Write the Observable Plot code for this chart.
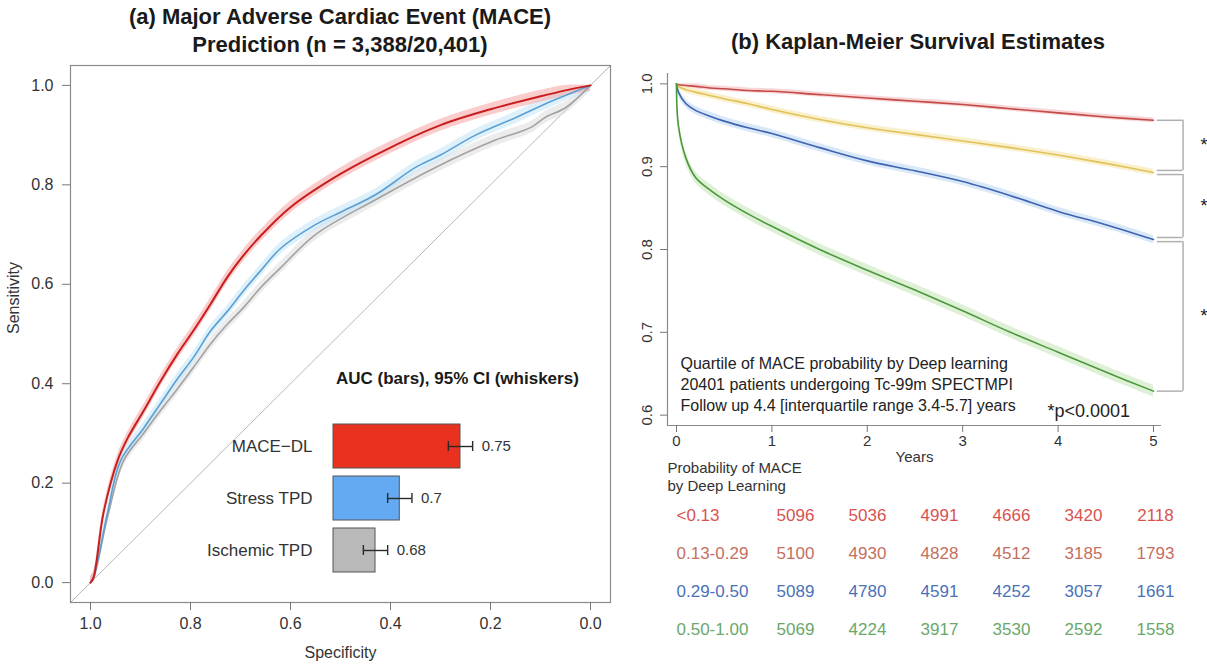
<!DOCTYPE html>
<html><head><meta charset="utf-8">
<script src="https://cdn.jsdelivr.net/npm/d3@7"></script>
<script src="https://cdn.jsdelivr.net/npm/@observablehq/plot@0.6"></script>
<style>
body{margin:0;background:#fff;}
#root{position:relative;width:1207px;height:664px;overflow:hidden;font-family:"Liberation Sans",Arial,Helvetica,sans-serif;color:#1a1a1a;background:#fff;}
.abs{position:absolute;}
.title{font-weight:bold;font-size:22px;line-height:28px;text-align:center;color:#1a1a1a;white-space:nowrap;}
</style></head>
<body><div id="root"></div>
<script>
const FONT = '"Liberation Sans", Arial, Helvetica, sans-serif';

// ---------- (a) ROC data ----------
const rocModels = ["MACE-DL", "Stress TPD", "Ischemic TPD"];
const rocSpecMace = [1, 0.994, 0.974, 0.946, 0.926, 0.894, 0.86, 0.826, 0.794, 0.76, 0.726, 0.694, 0.66, 0.6, 0.5, 0.4, 0.3, 0.2, 0.1, 0.05, 0];
const rocSensMace = [0, 0.01, 0.14, 0.245, 0.29, 0.345, 0.405, 0.46, 0.507, 0.56, 0.615, 0.658, 0.697, 0.755, 0.822, 0.875, 0.92, 0.952, 0.978, 0.99, 1];
const rocSpecStress = [1, 0.994, 0.966, 0.94, 0.894, 0.86, 0.826, 0.794, 0.76, 0.726, 0.694, 0.66, 0.62, 0.55, 0.5, 0.43, 0.35, 0.3, 0.23, 0.15, 0.074, 0];
const rocSensStress = [0, 0.01, 0.14, 0.245, 0.31, 0.36, 0.41, 0.453, 0.506, 0.546, 0.587, 0.627, 0.672, 0.72, 0.745, 0.78, 0.835, 0.86, 0.9, 0.935, 0.97, 1];
const rocSpecIsch = [1, 0.994, 0.964, 0.934, 0.894, 0.86, 0.826, 0.794, 0.76, 0.726, 0.694, 0.66, 0.62, 0.55, 0.43, 0.31, 0.19, 0.12, 0.09, 0.05, 0];
const rocSensIsch = [0, 0.01, 0.14, 0.245, 0.30, 0.346, 0.39, 0.433, 0.48, 0.52, 0.553, 0.593, 0.633, 0.70, 0.77, 0.835, 0.89, 0.915, 0.936, 0.955, 1];
const rocXTicks = [1, 0.8, 0.6, 0.4, 0.2, 0];
const rocYTicks = [0, 0.2, 0.4, 0.6, 0.8, 1];

// ---------- AUC inset ----------
const aucLabels = ["MACE\u2212DL", "Stress TPD", "Ischemic TPD"];
const aucValues = [0.75, 0.70, 0.68];
const aucLo = [0.74, 0.69, 0.67];
const aucHi = [0.76, 0.71, 0.69];
const aucText = ["0.75", "0.7", "0.68"];
const aucBase = 0.6454;

// ---------- (b) Kaplan-Meier data ----------
const kmGroups = ["<0.13", "0.13-0.29", "0.29-0.50", "0.50-1.00"];
const kmTime = [0, 0.02, 0.1, 0.2, 0.35, 0.5, 0.75, 1, 1.5, 2, 2.5, 3, 3.5, 4, 4.5, 5];
const kmRed = [1, 0.999, 0.998, 0.997, 0.995, 0.994, 0.992, 0.991, 0.987, 0.983, 0.979, 0.975, 0.970, 0.965, 0.960, 0.956];
const kmYellow = [1, 0.997, 0.993, 0.990, 0.986, 0.982, 0.976, 0.969, 0.957, 0.947, 0.939, 0.931, 0.923, 0.914, 0.904, 0.893];
const kmBlue = [1, 0.990, 0.976, 0.968, 0.961, 0.955, 0.947, 0.940, 0.923, 0.907, 0.895, 0.882, 0.865, 0.846, 0.830, 0.812];
const kmGreen = [1, 0.950, 0.910, 0.887, 0.872, 0.860, 0.843, 0.828, 0.800, 0.775, 0.751, 0.726, 0.700, 0.676, 0.652, 0.629];
const kmXTicks = [0, 1, 2, 3, 4, 5];
const kmYTicks = [0.6, 0.7, 0.8, 0.9, 1.0];
const kmNote = "Quartile of MACE probability by Deep learning\n20401 patients undergoing Tc-99m SPECTMPI\nFollow up 4.4 [interquartile range 3.4-5.7] years";
const kmP = "*p<0.0001";

// ---------- numbers at risk ----------
const riskYears = [0, 1, 2, 3, 4, 5];
const riskLow = [5096, 5036, 4991, 4666, 3420, 2118];
const riskMidLow = [5100, 4930, 4828, 4512, 3185, 1793];
const riskMidHigh = [5089, 4780, 4591, 4252, 3057, 1661];
const riskHigh = [5069, 4224, 3917, 3530, 2592, 1558];
const riskHeader = "Probability of MACE\nby Deep Learning";

// ---------- styles ----------
const rocLineColors = ["#c81e1e", "#5b9fd3", "#a2a2a2"];
const rocBandColors = ["#f7a3a3", "#c2e5f7", "#dddddd"];
const aucBarColors = ["#e8321f", "#64aaf2", "#b9b9b9"];
const kmLineColors = ["#c44a4a", "#e3c15a", "#3e63b0", "#4a983a"];
const kmBandColors = ["#f6cccc", "#f8ecbf", "#cfe2f8", "#d6eecd"];
const kmBandHalf = [0.003, 0.004, 0.005, 0.007];
const riskColors = ["#d9534f", "#c4705f", "#4a72b8", "#6aa86a"];
const rocBandHalf = 0.012;

const root = document.getElementById("root");
function place(node, left, top) {
  const d = document.createElement("div");
  d.className = "abs";
  d.style.left = left + "px"; d.style.top = top + "px";
  d.appendChild(node);
  root.appendChild(d);
  return d;
}
function htmlText(html, left, top, width, cls, extra) {
  const d = document.createElement("div");
  d.className = "abs " + (cls || "");
  d.style.left = left + "px"; d.style.top = top + "px";
  if (width) d.style.width = width + "px";
  if (extra) Object.assign(d.style, extra);
  d.innerHTML = html;
  root.appendChild(d);
}

// ================= Panel (a) ROC =================
const rocSpec = [rocSpecMace, rocSpecStress, rocSpecIsch];
const rocSens = [rocSensMace, rocSensStress, rocSensIsch];
const rocData = rocModels.map((m, i) => rocSpec[i].map((sp, j) => ({model: m, spec: sp, sens: rocSens[i][j]})));
const rocXDom = [1.04, -0.04], rocYDom = [-0.04, 1.04];

const leftMarks = [
  Plot.line(rocXDom.map(s => ({spec: s})), {x: "spec", y: d => 1 - d.spec, stroke: "#b8b8b8", strokeWidth: 1, clip: true})
];
for (let i = rocModels.length - 1; i >= 0; i--) {
  leftMarks.push(Plot.areaY(rocData[i], {x: "spec", y1: d => Math.max(0, d.sens - rocBandHalf), y2: d => Math.min(1, d.sens + rocBandHalf), fill: rocBandColors[i], fillOpacity: 0.55, curve: "catmull-rom"}));
}
for (let i = rocModels.length - 1; i >= 0; i--) {
  leftMarks.push(Plot.line(rocData[i], {x: "spec", y: "sens", stroke: rocLineColors[i], strokeWidth: i === 0 ? 2 : 1.6, curve: "catmull-rom"}));
}
leftMarks.push(
  Plot.frame({stroke: "#8a8a8a", strokeWidth: 1.2}),
  Plot.axisX({ticks: rocXTicks, tickFormat: d3.format(".1f"), tickSize: 8, tickPadding: 7, fontSize: 16, label: null, stroke: "#777", fill: "#333"}),
  Plot.axisY({ticks: rocYTicks, tickFormat: d3.format(".1f"), tickSize: 8, tickPadding: 9, fontSize: 16, label: null, stroke: "#777", fill: "#333"}),
  Plot.text(["Specificity"], {frameAnchor: "bottom", dy: 50, fontSize: 16, fill: "#333", lineAnchor: "middle"}),
  Plot.text(["Sensitivity"], {frameAnchor: "left", dx: -57, rotate: -90, fontSize: 16, fill: "#333"})
);
const left = Plot.plot({
  width: 620, height: 664, marginLeft: 70, marginRight: 10, marginTop: 65, marginBottom: 62,
  x: {domain: rocXDom}, y: {domain: rocYDom},
  style: {fontFamily: FONT, fontSize: "16px", background: "transparent", overflow: "visible"},
  marks: leftMarks
});
place(left, 0, 0);

// ---------- AUC inset ----------
const aucData = aucLabels.map((m, i) => ({model: m, auc: aucValues[i], lo: aucLo[i], hi: aucHi[i], label: aucText[i]}));
const inset = Plot.plot({
  width: 400, height: 180, marginLeft: 133, marginRight: 0, marginTop: 0, marginBottom: 0,
  x: {domain: [aucBase, 0.75], range: [133, 260], axis: null},
  y: {type: "band", domain: aucLabels, range: [19, 176.5], paddingInner: 0.16, paddingOuter: 0.08, axis: null},
  color: {domain: aucLabels, range: aucBarColors},
  style: {fontFamily: FONT, fontSize: "17px", background: "transparent", overflow: "visible"},
  marks: [
    Plot.barX(aucData, {y: "model", x1: aucBase, x2: "auc", fill: "model", stroke: "#555", strokeWidth: 1}),
    Plot.ruleY(aucData, {y: "model", x1: "lo", x2: "hi", stroke: "#2a2a2a", strokeWidth: 1.4}),
    Plot.tickX(aucData, {y: "model", x: "lo", insetTop: 17, insetBottom: 17, stroke: "#2a2a2a", strokeWidth: 1.4}),
    Plot.tickX(aucData, {y: "model", x: "hi", insetTop: 17, insetBottom: 17, stroke: "#2a2a2a", strokeWidth: 1.4}),
    Plot.text(aucData, {y: "model", x: "hi", text: "label", dx: 9, textAnchor: "start", fontSize: 15, fill: "#333"}),
    Plot.text(aucData, {y: "model", frameAnchor: "left", text: "model", dx: -21, textAnchor: "end", fontSize: 17, fill: "#333"})
  ]
});
place(inset, 200, 400);
htmlText("AUC (bars), 95% CI (whiskers)", 336, 369, null, "", {fontWeight: "bold", fontSize: "17px", lineHeight: "20px", color: "#1a1a1a", whiteSpace: "nowrap"});

// ================= Panel (b) KM =================
const kmSurv = [kmRed, kmYellow, kmBlue, kmGreen];
const kmData = kmGroups.map((g, gi) => kmTime.map((t, i) => ({group: g, t, s: kmSurv[gi][i]})));
const kmXDom = [-0.094, 5.084], kmYDom = [0.5875, 1.0125];
const bracketX1 = 5.04, bracketX2 = 5.31, starX = 5.53, bracketGap = 0.0025;
const ends = kmSurv.map(a => a[a.length - 1]);
const brackets = d3.range(ends.length - 1).map(i => ({top: ends[i] - (i === 0 ? 0 : bracketGap), bot: ends[i + 1] + (i + 1 === ends.length - 1 ? 0 : bracketGap)}));
const bracketTicks = brackets.flatMap(b => [b.top, b.bot]);

const kmMarks = [];
kmData.forEach((d, i) => kmMarks.push(Plot.areaY(d, {x: "t", y1: r => r.s - kmBandHalf[i], y2: r => Math.min(1, r.s + kmBandHalf[i]), fill: kmBandColors[i], fillOpacity: 0.8, curve: "catmull-rom"})));
kmData.forEach((d, i) => kmMarks.push(Plot.line(d, {x: "t", y: "s", stroke: kmLineColors[i], strokeWidth: 1.6, curve: "catmull-rom"})));
kmMarks.push(
  Plot.ruleY(bracketTicks, {y: d => d, x1: bracketX1, x2: bracketX2, stroke: "#b0b0b0", strokeWidth: 1.5}),
  Plot.ruleX(brackets, {x: bracketX2, y1: "top", y2: "bot", stroke: "#b0b0b0", strokeWidth: 1.5}),
  Plot.text(brackets, {x: starX, y: d => (d.top + d.bot) / 2, text: () => "*", fontSize: 18, fill: "#222"}),
  Plot.ruleX([kmXDom[0]], {stroke: "#8a8a8a", strokeWidth: 1.2}),
  Plot.ruleY([kmYDom[0]], {stroke: "#8a8a8a", strokeWidth: 1.2}),
  Plot.axisX({ticks: kmXTicks, tickFormat: d3.format("d"), tickSize: 7, tickPadding: 3, fontSize: 15, label: null, stroke: "#777", fill: "#333"}),
  Plot.axisY({ticks: kmYTicks, tickFormat: d3.format(".1f"), tickSize: 7, tickPadding: 9, tickRotate: -90, fontSize: 15, label: null, stroke: "#777", fill: "#333"}),
  Plot.text([kmNote], {frameAnchor: "bottom-left", dx: 13, dy: -15, lineAnchor: "bottom", textAnchor: "start", fontSize: 16, lineHeight: 1.3, fill: "#222"}),
  Plot.text([kmP], {frameAnchor: "bottom-left", dx: 380, dy: -9, lineAnchor: "bottom", textAnchor: "start", fontSize: 18, fill: "#222"}),
  Plot.text(["Years"], {frameAnchor: "bottom", dy: 32, lineAnchor: "middle", fontSize: 15, fill: "#333"})
);
const km = Plot.plot({
  width: 587, height: 470, marginLeft: 47, marginRight: 46, marginTop: 73, marginBottom: 45,
  x: {domain: kmXDom}, y: {domain: kmYDom},
  style: {fontFamily: FONT, fontSize: "15px", background: "transparent", overflow: "visible"},
  marks: kmMarks
});
place(km, 620, 0);

// ---------- number-at-risk table ----------
const riskRows = [riskLow, riskMidLow, riskMidHigh, riskHigh];
const riskCells = kmGroups.flatMap((g, gi) => riskYears.map((y, i) => ({group: g, year: y, n: riskRows[gi][i]})));
const table = Plot.plot({
  width: 587, height: 204, margin: 0,
  x: {type: "point", domain: riskYears, range: [173, 537], padding: 0, axis: null},
  y: {type: "point", domain: kmGroups, range: [55, 169], padding: 0, axis: null},
  color: {domain: kmGroups, range: riskColors},
  style: {fontFamily: FONT, fontSize: "17px", background: "transparent", overflow: "visible"},
  marks: [
    Plot.text(riskCells, {x: "year", y: "group", text: d => String(d.n), fill: "group", fontSize: 17}),
    Plot.text(kmGroups, {y: d => d, frameAnchor: "left", dx: 56, textAnchor: "start", text: d => d, fill: d => d, fontSize: 17}),
    Plot.text([riskHeader], {frameAnchor: "top-left", dx: 47, dy: 0, lineAnchor: "top", textAnchor: "start", fontSize: 15, lineHeight: 1.2, fill: "#333"})
  ]
});
place(table, 620, 460);

// ---------- titles ----------
htmlText("(a) Major Adverse Cardiac Event (MACE)<br>Prediction (n = 3,388/20,401)", 0, 3, 680, "title");
htmlText("(b) Kaplan-Meier Survival Estimates", 618, 28, 600, "title");
</script></body></html>
